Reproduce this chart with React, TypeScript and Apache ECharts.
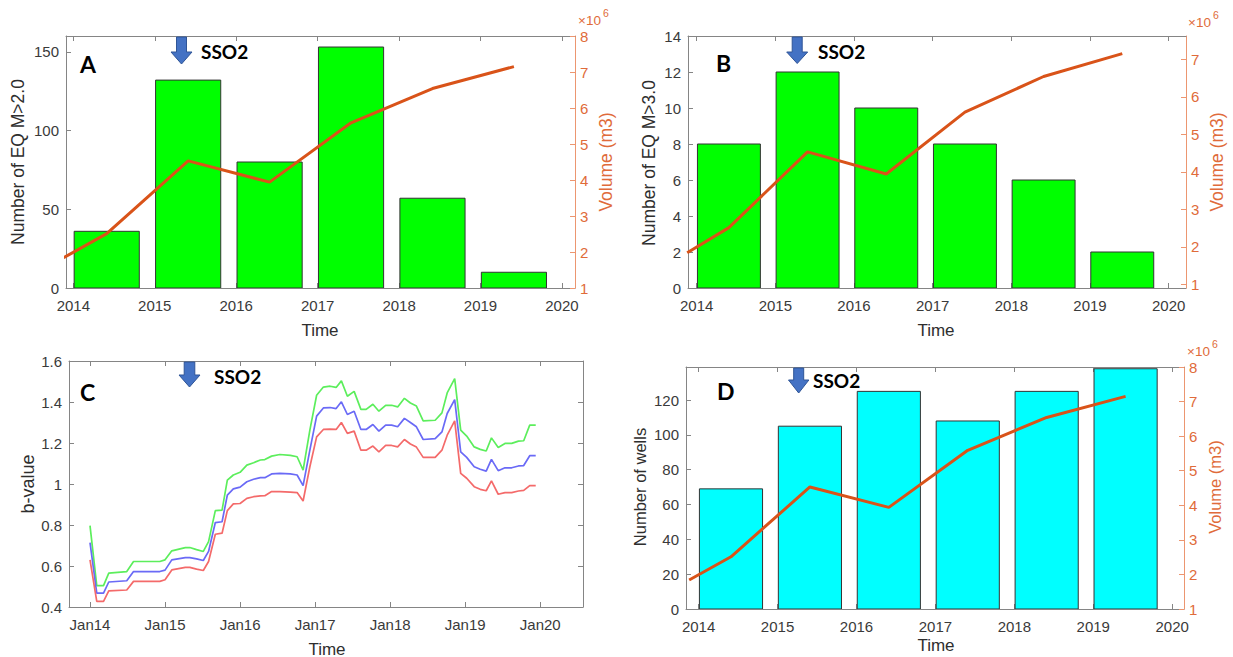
import React, { useEffect, useRef } from 'react';
import * as echarts from 'echarts';

// ---------- data ----------
const YEAR_TICKS = [2014, 2015, 2016, 2017, 2018, 2019, 2020];
const BAR_TIME = [2014.41, 2015.41, 2016.41, 2017.41, 2018.41, 2019.41];
const EQ_M20 = [36, 132, 80, 153, 57, 10];
const EQ_M30 = [8, 12, 10, 8, 6, 2];
const WELLS = [69, 105, 125, 108, 125, 138];
const VOL_TIME = [2013.88, 2014.41, 2015.41, 2016.41, 2017.41, 2018.41, 2019.41];
const VOLUME = [1840000, 2510000, 4530000, 3940000, 5590000, 6540000, 7150000];

const EQ_M20_TICKS = [0, 50, 100, 150];
const EQ_M30_TICKS = [0, 2, 4, 6, 8, 10, 12, 14];
const WELLS_TICKS = [0, 20, 40, 60, 80, 100, 120];
const VOL_TICKS = [1e6, 2e6, 3e6, 4e6, 5e6, 6e6, 7e6, 8e6];
const VOL_TICKS_B = [1e6, 2e6, 3e6, 4e6, 5e6, 6e6, 7e6];
const BVAL_TICKS = [0.4, 0.6, 0.8, 1.0, 1.2, 1.4, 1.6];

const BV_TIME = [
  2014.0, 2014.09, 2014.18, 2014.25, 2014.49, 2014.58, 2014.93, 2015.0, 2015.09, 2015.27,
  2015.33, 2015.42, 2015.51, 2015.58, 2015.67, 2015.76, 2015.83, 2015.91, 2016.0, 2016.09,
  2016.18, 2016.27, 2016.33, 2016.42, 2016.53, 2016.67, 2016.76, 2016.84, 2016.93, 2017.02,
  2017.11, 2017.2, 2017.28, 2017.35, 2017.43, 2017.52, 2017.61, 2017.68, 2017.77, 2017.85,
  2017.94, 2018.02, 2018.1, 2018.19, 2018.27, 2018.35, 2018.44, 2018.6, 2018.69, 2018.76,
  2018.86, 2018.94, 2019.02, 2019.12, 2019.2, 2019.28, 2019.35, 2019.44, 2019.53, 2019.62,
  2019.71, 2019.78, 2019.86, 2019.94,
];
const BV_UPPER = [
  0.797, 0.504, 0.504, 0.565, 0.573, 0.622, 0.622, 0.63, 0.674, 0.69,
  0.69, 0.68, 0.671, 0.719, 0.87, 0.873, 1.019, 1.044, 1.057, 1.092,
  1.104, 1.117, 1.119, 1.136, 1.144, 1.14, 1.133, 1.068, 1.263, 1.433,
  1.473, 1.477, 1.471, 1.503, 1.428, 1.452, 1.364, 1.364, 1.389, 1.355,
  1.384, 1.384, 1.376, 1.418, 1.395, 1.38, 1.308, 1.311, 1.347, 1.444,
  1.514, 1.263, 1.234, 1.181, 1.169, 1.161, 1.225, 1.178, 1.198, 1.198,
  1.209, 1.211, 1.287, 1.287,
];
const BV_MID = [
  0.714, 0.468, 0.468, 0.522, 0.528, 0.573, 0.573, 0.58, 0.63, 0.641,
  0.641, 0.635, 0.627, 0.671, 0.812, 0.816, 0.946, 0.976, 0.985, 1.011,
  1.023, 1.031, 1.031, 1.049, 1.052, 1.049, 1.044, 0.992, 1.165, 1.331,
  1.371, 1.373, 1.368, 1.401, 1.339, 1.355, 1.266, 1.266, 1.29, 1.258,
  1.287, 1.287, 1.279, 1.32, 1.3, 1.279, 1.217, 1.221, 1.254, 1.344,
  1.412, 1.157, 1.13, 1.084, 1.072, 1.063, 1.12, 1.065, 1.079, 1.079,
  1.088, 1.09, 1.138, 1.138,
];
const BV_LOWER = [
  0.63, 0.427, 0.427, 0.479, 0.483, 0.525, 0.525, 0.533, 0.581, 0.593,
  0.593, 0.585, 0.578, 0.622, 0.755, 0.76, 0.87, 0.903, 0.905, 0.93,
  0.938, 0.942, 0.943, 0.963, 0.963, 0.96, 0.958, 0.917, 1.084, 1.23,
  1.266, 1.268, 1.266, 1.3, 1.247, 1.258, 1.165, 1.165, 1.185, 1.157,
  1.188, 1.188, 1.181, 1.217, 1.195, 1.18, 1.13, 1.13, 1.165, 1.238,
  1.308, 1.052, 1.028, 0.987, 0.974, 0.967, 1.015, 0.95, 0.958, 0.958,
  0.966, 0.969, 0.992, 0.992,
];

// ---------- styles ----------
const BAR_WIDTH_YEARS = 0.8;
const AXIS_GRAY = '#858585';
const TICK_LABEL = '#3a3a3a';
const TITLE_COLOR = '#2e2e2e';
const ORANGE = '#d95319';
const ORANGE_AXIS = '#ec9670';
const ORANGE_LABEL = '#e06b3a';
const ARROW_FILL = '#4472c4';
const ARROW_STROKE = '#2f5597';
const AX_FONT = '"Liberation Sans", Arial, sans-serif';
const ANN_FONT = 'Lato, "Open Sans", sans-serif';

const GRIDS = [
  { left: 66, top: 36, width: 509, height: 252 }, // A
  { left: 688, top: 36, width: 498, height: 252 }, // B
  { left: 69, top: 361, width: 514, height: 246 }, // C
  { left: 686, top: 367, width: 498, height: 242 }, // D
];

function xAxes(gridIndex: number, min: number, max: number, fmt: (v: number) => string) {
  const base = {
    type: 'value' as const,
    gridIndex,
    min,
    max,
    splitLine: { show: false },
    axisLine: { show: true, onZero: false, lineStyle: { color: AXIS_GRAY, width: 1 } },
    axisTick: { show: true, inside: true, length: 5, customValues: YEAR_TICKS, lineStyle: { color: AXIS_GRAY } },
  };
  return [
    {
      ...base,
      position: 'bottom',
      axisLabel: {
        customValues: YEAR_TICKS,
        formatter: fmt,
        color: TICK_LABEL,
        fontSize: 15,
        fontFamily: AX_FONT,
        margin: 10,
      },
    },
    { ...base, position: 'top', axisLabel: { show: false } },
  ];
}

function yAxisLeft(gridIndex: number, min: number, max: number, ticks: number[], fmt?: (v: number) => string) {
  return {
    type: 'value',
    gridIndex,
    position: 'left',
    min,
    max,
    splitLine: { show: false },
    axisLine: { show: true, onZero: false, lineStyle: { color: AXIS_GRAY, width: 1 } },
    axisTick: { show: true, inside: true, length: 5, customValues: ticks, lineStyle: { color: AXIS_GRAY } },
    axisLabel: {
      customValues: ticks,
      formatter: fmt || ((v: number) => String(v)),
      color: TICK_LABEL,
      fontSize: 15,
      fontFamily: AX_FONT,
      margin: 7,
    },
  };
}

function yAxisRightVolume(gridIndex: number, min: number, max: number, ticks: number[]) {
  return {
    type: 'value',
    gridIndex,
    position: 'right',
    min,
    max,
    splitLine: { show: false },
    axisLine: { show: true, onZero: false, lineStyle: { color: ORANGE_AXIS, width: 1 } },
    axisTick: { show: true, inside: true, length: 5, customValues: ticks, lineStyle: { color: ORANGE_AXIS } },
    axisLabel: {
      customValues: ticks,
      formatter: (v: number) => String(Math.round(v / 1e6)),
      color: ORANGE_LABEL,
      fontSize: 15,
      fontFamily: AX_FONT,
      margin: 5,
    },
  };
}

function yAxisRightMirror(gridIndex: number, min: number, max: number, ticks: number[]) {
  return {
    type: 'value',
    gridIndex,
    position: 'right',
    min,
    max,
    splitLine: { show: false },
    axisLine: { show: true, onZero: false, lineStyle: { color: AXIS_GRAY, width: 1 } },
    axisTick: { show: true, inside: true, length: 5, customValues: ticks, lineStyle: { color: AXIS_GRAY } },
    axisLabel: { show: false },
  };
}

function barSeries(xIndex: number, yIndex: number, values: number[], fill: string) {
  return {
    type: 'custom',
    xAxisIndex: xIndex,
    yAxisIndex: yIndex,
    clip: true,
    z: 1,
    data: BAR_TIME.map((t, i) => [t, values[i]]),
    renderItem: (_params: any, api: any) => {
      const t = api.value(0);
      const v = api.value(1);
      const a = api.coord([t - BAR_WIDTH_YEARS / 2, v]);
      const b = api.coord([t + BAR_WIDTH_YEARS / 2, 0]);
      return {
        type: 'rect',
        shape: { x: a[0], y: a[1], width: b[0] - a[0], height: b[1] - a[1] },
        style: { fill, stroke: '#333333', lineWidth: 1 },
      };
    },
  };
}

function volumeSeries(xIndex: number, yIndex: number) {
  return {
    type: 'line',
    xAxisIndex: xIndex,
    yAxisIndex: yIndex,
    data: VOL_TIME.map((t, i) => [t, VOLUME[i]]),
    showSymbol: false,
    symbol: 'none',
    clip: true,
    z: 3,
    lineStyle: { color: ORANGE, width: 3 },
  };
}

function bvSeries(values: number[], color: string) {
  return {
    type: 'line',
    xAxisIndex: 4,
    yAxisIndex: 4,
    data: BV_TIME.map((t, i) => [t, values[i]]),
    showSymbol: false,
    symbol: 'none',
    clip: true,
    z: 3,
    lineStyle: { color, width: 1.7 },
  };
}

function arrow(cx: number, top: number, headTop: number, tip: number, shaftHalf: number, headHalf: number) {
  return {
    type: 'polygon',
    shape: {
      points: [
        [cx - shaftHalf, top],
        [cx + shaftHalf, top],
        [cx + shaftHalf, headTop],
        [cx + headHalf, headTop],
        [cx, tip],
        [cx - headHalf, headTop],
        [cx - shaftHalf, headTop],
      ],
    },
    style: { fill: ARROW_FILL, stroke: ARROW_STROKE, lineWidth: 1 },
    z: 100,
  };
}

function txt(text: string, x: number, y: number, o: any = {}) {
  const align = o.align || 'left';
  return {
    type: 'text',
    x,
    y,
    rotation: o.rotation || 0,
    z: 100,
    style: {
      text,
      fill: o.color || TITLE_COLOR,
      fontSize: o.size || 17,
      fontFamily: o.family || AX_FONT,
      fontWeight: o.weight || 'normal',
      align,
      textAlign: align,
      verticalAlign: 'middle',
      textVerticalAlign: 'middle',
    },
  };
}

const yearFmt = (v: number) => String(Math.round(v));
const janFmt = (v: number) => 'Jan' + String(Math.round(v) - 2000);
const bFmt = (v: number) => String(Number(v.toFixed(1)));

export default function App() {
  const ref = useRef<HTMLDivElement>(null);

  useEffect(() => {
    document.body.style.margin = '0';
    if (!ref.current) return;
    const chart = echarts.init(ref.current, undefined, { renderer: 'svg' });

    const xAxis = [
      ...xAxes(0, 2013.91, 2020.16, yearFmt),
      ...xAxes(1, 2013.89, 2020.22, yearFmt),
      ...xAxes(2, 2013.72, 2020.57, janFmt),
      ...xAxes(3, 2013.84, 2020.15, yearFmt),
    ];
    const yAxis = [
      yAxisLeft(0, 0, 160, EQ_M20_TICKS),
      yAxisRightVolume(0, 1e6, 8e6, VOL_TICKS),
      yAxisLeft(1, 0, 14, EQ_M30_TICKS),
      yAxisRightVolume(1, 0.9e6, 7.62e6, VOL_TICKS_B),
      yAxisLeft(2, 0.4, 1.6, BVAL_TICKS, bFmt),
      yAxisRightMirror(2, 0.4, 1.6, BVAL_TICKS),
      yAxisLeft(3, 0, 139, WELLS_TICKS),
      yAxisRightVolume(3, 1e6, 8e6, VOL_TICKS),
    ];
    // axis index pairs: A x0/y0,y1 ; B x2/y2,y3 ; C x4/y4 ; D x6/y6,y7
    const series = [
      barSeries(0, 0, EQ_M20, '#00ff00'),
      volumeSeries(0, 1),
      barSeries(2, 2, EQ_M30, '#00ff00'),
      volumeSeries(2, 3),
      bvSeries(BV_UPPER, '#5cee5c'),
      bvSeries(BV_MID, '#6a6af6'),
      bvSeries(BV_LOWER, '#f46a6a'),
      barSeries(6, 6, WELLS, '#00ffff'),
      volumeSeries(6, 7),
    ];

    const graphic = [
      // arrows
      arrow(181.5, 37, 52, 64, 5, 10.5),
      arrow(797.2, 37, 52, 63.5, 5, 10.5),
      arrow(189.5, 362, 375, 387, 5.3, 10.5),
      arrow(798.7, 368, 380, 393, 5, 10.2),
      // SSO2 labels
      txt('SSO2', 201, 51, { family: ANN_FONT, weight: 'bold', size: 19, color: '#000' }),
      txt('SSO2', 818, 51, { family: ANN_FONT, weight: 'bold', size: 19, color: '#000' }),
      txt('SSO2', 214, 376, { family: ANN_FONT, weight: 'bold', size: 19, color: '#000' }),
      txt('SSO2', 813, 380, { family: ANN_FONT, weight: 'bold', size: 19, color: '#000' }),
      // panel letters
      txt('A', 80, 64, { family: ANN_FONT, weight: 'bold', size: 23, color: '#000' }),
      txt('B', 716, 63, { family: ANN_FONT, weight: 'bold', size: 23, color: '#000' }),
      txt('C', 80, 392, { family: ANN_FONT, weight: 'bold', size: 23, color: '#000' }),
      txt('D', 717, 391, { family: ANN_FONT, weight: 'bold', size: 23, color: '#000' }),
      // axis titles
      txt('Number of EQ M>2.0', 18, 162, { rotation: Math.PI / 2, align: 'center', size: 17.5 }),
      txt('Volume (m3)', 606, 162, { rotation: Math.PI / 2, align: 'center', size: 17.5, color: ORANGE_LABEL }),
      txt('Time', 320, 330, { align: 'center', size: 17 }),
      txt('Number of EQ M>3.0', 649, 163, { rotation: Math.PI / 2, align: 'center', size: 17.5 }),
      txt('Volume (m3)', 1217, 162, { rotation: Math.PI / 2, align: 'center', size: 17.5, color: ORANGE_LABEL }),
      txt('Time', 936, 330, { align: 'center', size: 17 }),
      txt('b-value', 28, 484, { rotation: Math.PI / 2, align: 'center', size: 18 }),
      txt('Time', 327, 649, { align: 'center', size: 17 }),
      txt('Number of wells', 640, 487, { rotation: Math.PI / 2, align: 'center', size: 16.5 }),
      txt('Volume (m3)', 1215, 487, { rotation: Math.PI / 2, align: 'center', size: 16.5, color: ORANGE_LABEL }),
      txt('Time', 936, 645, { align: 'center', size: 17 }),
      // x10^6 exponent labels
      txt('×10', 578, 20, { size: 13.5, color: ORANGE_LABEL }),
      txt('6', 603, 13, { size: 10.5, color: ORANGE_LABEL }),
      txt('×10', 1188, 22, { size: 13.5, color: ORANGE_LABEL }),
      txt('6', 1213, 15, { size: 10.5, color: ORANGE_LABEL }),
      txt('×10', 1187, 351, { size: 13.5, color: ORANGE_LABEL }),
      txt('6', 1212, 344, { size: 10.5, color: ORANGE_LABEL }),
    ];

    chart.setOption({
      animation: false,
      backgroundColor: '#ffffff',
      grid: GRIDS.map((g) => ({ ...g, containLabel: false })),
      xAxis,
      yAxis,
      series,
      graphic,
    });

    return () => {
      chart.dispose();
    };
  }, []);

  return <div ref={ref} style={{ width: 1233, height: 657 }} />;
}
